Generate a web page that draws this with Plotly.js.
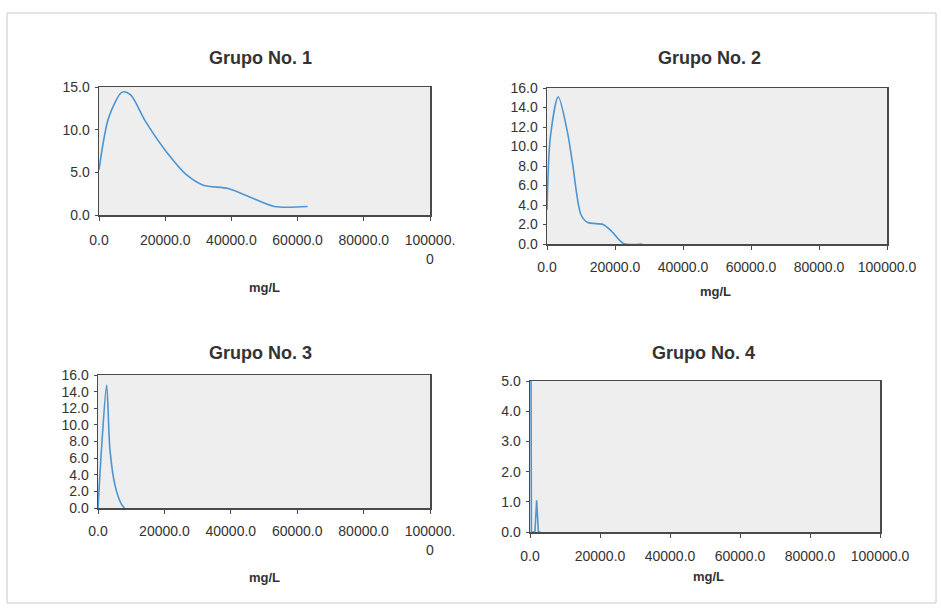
<!DOCTYPE html>
<html>
<head>
<meta charset="utf-8">
<script src="https://cdn.plot.ly/plotly-3.0.1.min.js"></script>
<style>html,body{margin:0;padding:0;background:#fff;}#chart{width:941px;height:611px;}</style>
</head>
<body>
<div id="chart"></div>
<script>
// ---- data ----
const titles = ["Grupo No. 1", "Grupo No. 2", "Grupo No. 3", "Grupo No. 4"];
const xTitle = "mg/L";

const g1x = [0, 3000, 7000, 9500, 14000, 20000, 26500, 31500, 39000, 45000, 53000, 63000];
const g1y = [5.3, 11.5, 14.4, 14.1, 11.0, 7.6, 4.7, 3.5, 3.1, 2.2, 1.0, 1.0];

const g2x = [0, 1000, 3300, 6000, 7500, 10000, 12000, 16500, 19000, 22500, 28000];
const g2y = [3.5, 11.0, 15.1, 11.5, 8.3, 3.0, 2.2, 2.0, 1.3, 0.05, 0];

const g3x = [0, 1200, 2600, 3600, 5200, 7000, 8000];
const g3y = [0, 8.0, 14.8, 7.0, 2.6, 0.5, 0];

const g4x = [0, 400, 1400, 1900, 2400, 3000];
const g4y = [20, 0, 0, 1.05, 0, 0];

const xTickVals = [0, 20000, 40000, 60000, 80000, 100000];
const xTickTextWrap = ["0.0", "20000.0", "40000.0", "60000.0", "80000.0", "100000.<br>0"];
const xTickText = ["0.0", "20000.0", "40000.0", "60000.0", "80000.0", "100000.0"];
const yTicks1 = [0, 5, 10, 15];
const yTicks23 = [0, 2, 4, 6, 8, 10, 12, 14, 16];
const yTicks4 = [0, 1, 2, 3, 4, 5];

// ---- styling ----
const W = 941, H = 611;
const lineColor = "#4d96d2";
const axisColor = "#4a4a4a";
const font = "Liberation Sans, Arial, sans-serif";
const px = v => v / W;
const py = v => 1 - v / H;

function trace(x, y, i, shape) {
  return {
    x: x, y: y, type: "scatter", mode: "lines",
    line: {color: lineColor, width: 1.6, shape: shape, smoothing: 0.8},
    xaxis: "x" + (i === 1 ? "" : i), yaxis: "y" + (i === 1 ? "" : i),
    hoverinfo: "skip", showlegend: false
  };
}

function xax(dom, anchor, text, standoff) {
  return {
    domain: dom, anchor: anchor, range: [-1, 100000], fixedrange: true,
    tickmode: "array", tickvals: xTickVals, ticktext: text,
    ticks: "outside", ticklen: 4, tickcolor: axisColor, ticklabelstandoff: standoff,
    showline: true, linecolor: axisColor, linewidth: 1.5, mirror: true,
    showgrid: false, zeroline: false,
    tickfont: {family: font, size: 14, color: "#333"}
  };
}
function yax(dom, anchor, range, ticks) {
  return {
    domain: dom, anchor: anchor, range: range, fixedrange: true,
    tickmode: "array", tickvals: ticks, ticktext: ticks.map(v => v.toFixed(1)),
    ticks: "outside", ticklen: 3, tickcolor: axisColor, ticklabelstandoff: 2,
    showline: true, linecolor: axisColor, linewidth: 1.5, mirror: true,
    showgrid: false, zeroline: false,
    tickfont: {family: font, size: 14, color: "#333"}
  };
}

const data = [
  trace(g1x, g1y, 1, "spline"),
  trace(g2x, g2y, 2, "spline"),
  trace(g3x, g3y, 3, "spline"),
  trace(g4x, g4y, 4, "linear")
];

function ann(text, x, y, size, bold) {
  return {
    text: bold ? "<b>" + text + "</b>" : text, xref: "paper", yref: "paper",
    x: px(x), y: py(y), xanchor: "center", yanchor: "middle", showarrow: false,
    font: {family: font, size: size, color: "#333"}
  };
}

const layout = {
  width: W, height: H,
  margin: {l: 0, r: 0, t: 0, b: 0},
  paper_bgcolor: "#ffffff", plot_bgcolor: "#eeeeee",
  showlegend: false,
  xaxis:  xax([px(99), px(430)], "y", xTickTextWrap, 8),
  yaxis:  yax([py(215), py(87)], "x", [0, 15], yTicks1),
  xaxis2: xax([px(547), px(887)], "y2", xTickText, 6),
  yaxis2: yax([py(244), py(88)], "x2", [0, 16], yTicks23),
  xaxis3: xax([px(98), px(430)], "y3", xTickTextWrap, 6),
  yaxis3: yax([py(508), py(375)], "x3", [0, 16], yTicks23),
  xaxis4: xax([px(530), px(880)], "y4", xTickText, 7),
  yaxis4: yax([py(532), py(381)], "x4", [0, 5], yTicks4),
  annotations: [
    ann(titles[0], 260, 58, 18, true),
    ann(titles[1], 709, 58, 18, true),
    ann(titles[2], 260, 353, 18, true),
    ann(titles[3], 703, 353, 18, true),
    ann(xTitle, 264, 287, 13, true),
    ann(xTitle, 715, 291, 13, true),
    ann(xTitle, 264, 577, 13, true),
    ann(xTitle, 708, 576, 13, true)
  ],
  shapes: [{
    type: "rect", xref: "paper", yref: "paper",
    x0: px(7), x1: px(936), y0: py(603), y1: py(13),
    line: {color: "#c8c8c8", width: 1}, fillcolor: "rgba(0,0,0,0)", layer: "below"
  }]
};

Plotly.newPlot("chart", data, layout, {displayModeBar: false, staticPlot: true});
</script>
</body>
</html>
